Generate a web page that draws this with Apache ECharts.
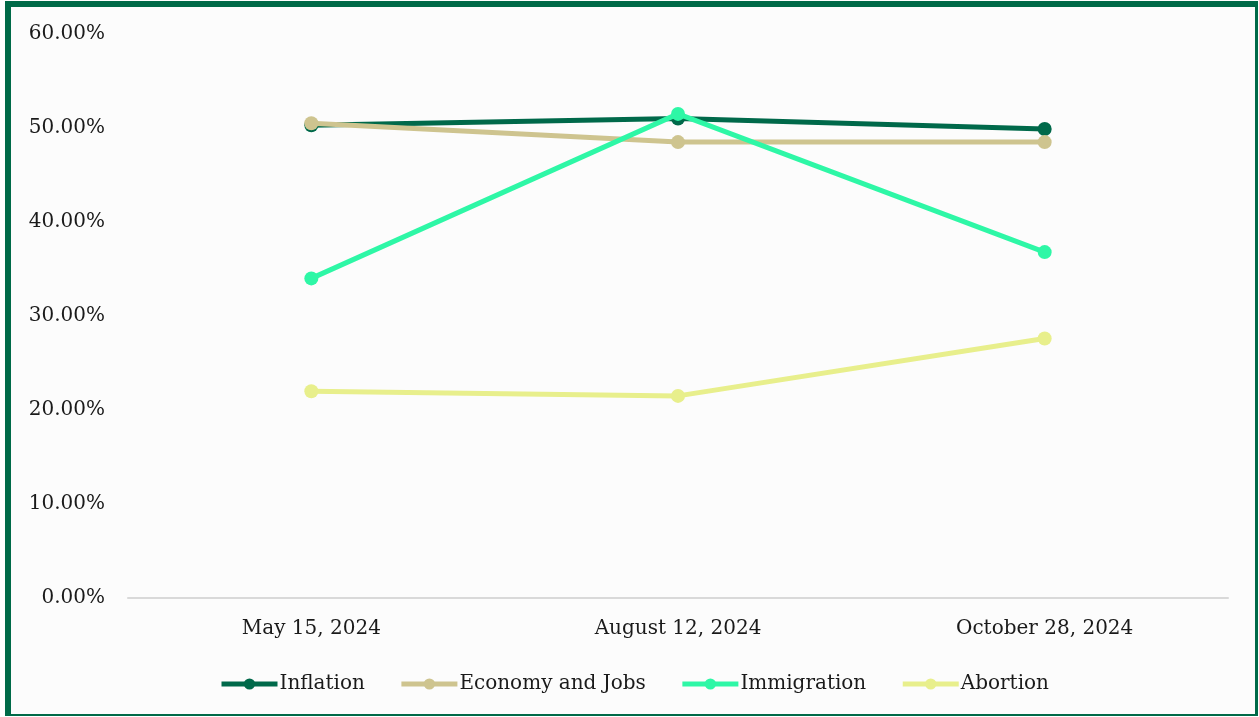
<!DOCTYPE html>
<html>
<head>
<meta charset="utf-8">
<script src="https://cdn.jsdelivr.net/npm/echarts@6/dist/echarts.min.js"></script>
<style>
html,body{margin:0;padding:0;background:#fff;overflow:hidden;}
#frame{position:absolute;box-sizing:border-box;left:5px;top:1px;width:1253px;height:715px;border-style:solid;border-color:#006A48;border-width:6px 3px 2px 6px;background:#fcfcfc;}
#chart{position:absolute;left:0;top:0;width:1259px;height:717px;}
</style>
</head>
<body>
<div id="frame"></div>
<div id="chart"></div>
<script>
const categories = ["May 15, 2024", "August 12, 2024", "October 28, 2024"];
const inflation = [50.3, 51.0, 49.9];
const economyJobs = [50.5, 48.5, 48.5];
const immigration = [34.0, 51.5, 36.8];
const abortion = [22.0, 21.5, 27.6];
const seriesNames = ["Inflation", "Economy and Jobs", "Immigration", "Abortion"];
const seriesColors = ["#00694A", "#CEC48F", "#2EF7A6", "#E8EF8C"];
const yTicks = [0, 10, 20, 30, 40, 50, 60];

const chart = echarts.init(document.getElementById('chart'));
const font = 'DejaVu Serif';
const dataSets = [inflation, economyJobs, immigration, abortion];
chart.setOption({
  backgroundColor: 'transparent',
  animation: false,
  grid: {left: 128, right: 31, top: 34, bottom: 119},
  legend: {
    left: 214, top: 669,
    itemWidth: 56, itemHeight: 14, itemGap: 34,
    lineStyle: {width: 5},
    textStyle: {fontFamily: font, fontSize: 20, color: '#1a1a1a', padding: [0, 0, 0, -3]},
    data: seriesNames
  },
  xAxis: {
    type: 'category',
    data: categories,
    boundaryGap: true,
    axisLine: {lineStyle: {color: '#D9D9D9', width: 2}},
    axisTick: {show: false},
    axisLabel: {fontFamily: font, fontSize: 20, color: '#1a1a1a', margin: 21}
  },
  yAxis: {
    type: 'value',
    min: yTicks[0], max: yTicks[yTicks.length - 1], interval: 10,
    axisLine: {show: false},
    axisTick: {show: false},
    splitLine: {show: false},
    axisLabel: {fontFamily: font, fontSize: 20, color: '#1a1a1a', margin: 23, padding: [4, 0, 0, 0],
      formatter: v => v.toFixed(2) + '%'}
  },
  series: seriesNames.map((n, i) => ({
    name: n,
    type: 'line',
    data: dataSets[i],
    symbol: 'circle',
    symbolSize: 14,
    lineStyle: {width: 5, color: seriesColors[i]},
    itemStyle: {color: seriesColors[i]},
    z: 2 + i
  }))
});
</script>
</body>
</html>
